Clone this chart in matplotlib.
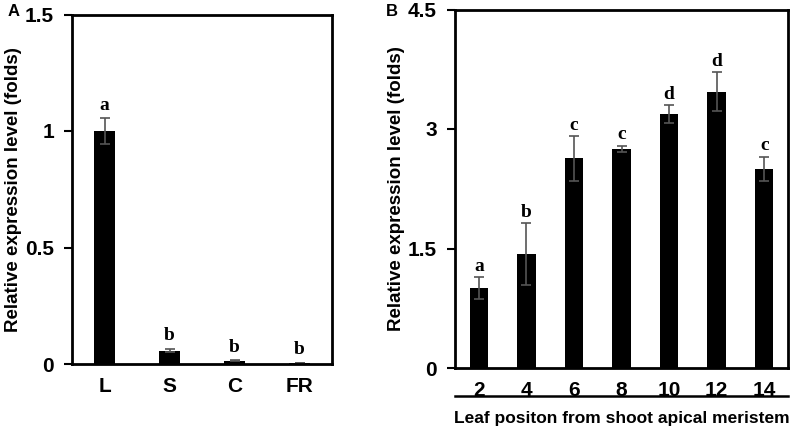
import numpy as np
import matplotlib
matplotlib.use("Agg")
import matplotlib.pyplot as plt

plt.rcParams['font.family'] = ['Liberation Sans', 'DejaVu Sans']

# panel A data
tissues = ["L", "S", "C", "FR"]
tissue_vals = [1.0, 0.057, 0.014, 0.004]
tissue_err = [0.055, 0.007, 0.002, 0.001]
tissue_sig = ["a", "b", "b", "b"]

# panel B data
leaf_pos = ["2", "4", "6", "8", "10", "12", "14"]
leaf_vals = [1.0, 1.43, 2.63, 2.75, 3.19, 3.47, 2.50]
leaf_err = [0.14, 0.39, 0.28, 0.04, 0.11, 0.24, 0.15]
leaf_sig = ["a", "b", "c", "c", "d", "d", "c"]

fig = plt.figure(figsize=(8, 4.37), dpi=100)
W, H = 800, 437
axA = fig.add_axes([72 / W, 1 - 364 / H, 260 / W, 349.5 / H])
axB = fig.add_axes([455 / W, 1 - 368 / H, 333 / W, 358.5 / H])

err_kw = dict(ecolor="#555555", elinewidth=1.2, capsize=3.5, capthick=1.2)


def style(ax):
    for s in ax.spines.values():
        s.set_linewidth(2)
    ax.tick_params(axis="y", direction="out", length=6, width=1.5, labelsize=15, pad=7)
    ax.tick_params(axis="x", length=0, labelsize=15, pad=9)
    for t in ax.get_xticklabels() + ax.get_yticklabels():
        t.set_fontweight("bold")


xa = np.arange(len(tissues))
axA.bar(xa, tissue_vals, width=0.31, color="black", yerr=tissue_err, error_kw=err_kw)
axA.set_xlim(-0.5, len(tissues) - 0.5)
axA.set_ylim(0, 1.5)
axA.set_yticks([0, 0.5, 1, 1.5])
axA.set_yticklabels(["0", "0.5", "1", "1.5"])
axA.set_xticks(xa)
axA.set_xticklabels(tissues)
for x, v, e, s in zip(xa, tissue_vals, tissue_err, tissue_sig):
    axA.text(x, v + e + 0.02, s, ha="center", va="bottom", fontsize=14,
             fontweight="bold", family="Liberation Serif")
axA.set_ylabel("Relative expression level (folds)", fontsize=13.5, fontweight="bold", labelpad=2)
style(axA)

xb = np.arange(len(leaf_pos))
axB.bar(xb, leaf_vals, width=0.39, color="black", yerr=leaf_err, error_kw=err_kw)
axB.set_xlim(-0.5, len(leaf_pos) - 0.5)
axB.set_ylim(0, 4.5)
axB.set_yticks([0, 1.5, 3, 4.5])
axB.set_yticklabels(["0", "1.5", "3", "4.5"])
axB.set_xticks(xb)
axB.set_xticklabels(leaf_pos)
for x, v, e, s in zip(xb, leaf_vals, leaf_err, leaf_sig):
    axB.text(x, v + e + 0.03, s, ha="center", va="bottom", fontsize=14,
             fontweight="bold", family="Liberation Serif")
axB.set_ylabel("Relative expression level (folds)", fontsize=13.5, fontweight="bold", labelpad=2)
style(axB)

# line under leaf positions and x label
fig.add_artist(plt.Line2D([455 / W, 788 / W], [1 - 396 / H, 1 - 396 / H], color="black", lw=1.8))
fig.text(622 / W, 1 - 418 / H, "Leaf positon from shoot apical meristem", ha="center",
         va="center", fontsize=12.5, fontweight="bold")

fig.text(8 / W, 1 - 12 / H, "A", fontsize=12, fontweight="bold", va="center")
fig.text(386 / W, 1 - 12 / H, "B", fontsize=12, fontweight="bold", va="center")

fig.savefig("out.png", dpi=100)
